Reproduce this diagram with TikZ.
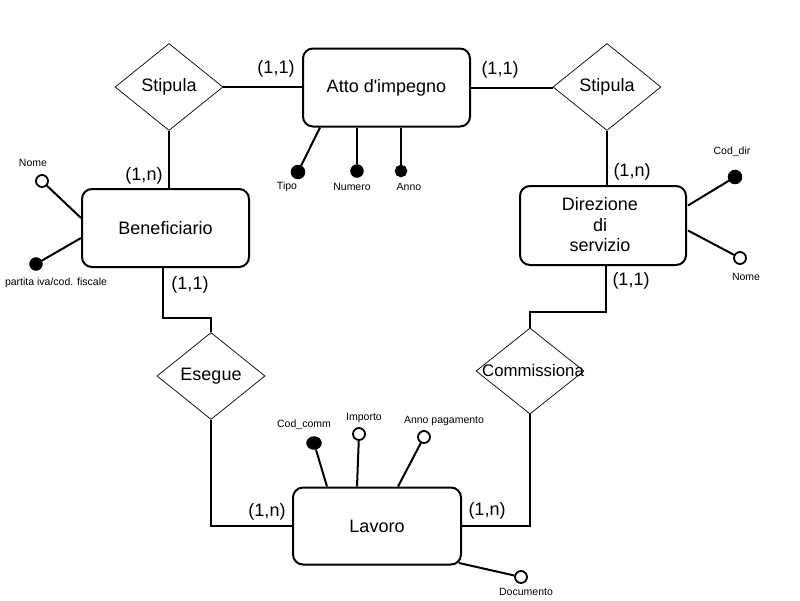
\documentclass[tikz,border=0pt]{standalone}
\usepackage{fontspec}
\setmainfont{Liberation Sans}
\usetikzlibrary{shapes.geometric,calc}
\begin{document}
\begin{tikzpicture}[x=1pt,y=-1pt,
  entity/.style={draw, line width=2pt, rounded corners=10pt, minimum height=78pt, inner sep=0pt, align=center, font=\fontsize{18}{20.5}\selectfont},
  rel/.style={draw, diamond, line width=0.7pt, minimum width=108pt, minimum height=87pt, inner sep=0pt},
  reltext/.style={font=\fontsize{18}{20}\selectfont, inner sep=0pt},
  card/.style={font=\fontsize{18}{20}\selectfont, inner sep=0pt},
  attr/.style={font=\fontsize{10.5}{12}\selectfont, inner sep=0pt},
  keyc/.style={draw, circle, line width=1.5pt, fill=black, minimum size=12pt, inner sep=0pt},
  optc/.style={draw, circle, line width=1.8pt, fill=white, minimum size=12pt, inner sep=0pt},
  conn/.style={line width=2pt},
  link/.style={line width=2pt}
]
\useasboundingbox (0,0) rectangle (800,600);

% entities
\node[entity, minimum width=167pt] (atto) at (386.5,87.5) {Atto d\textquotesingle impegno};
\node[entity, minimum width=167pt] (benef) at (165.5,228) {Beneficiario};
\node[entity, minimum width=166pt, minimum height=79pt] (dir) at (603,225.5) {};
\node[font=\fontsize{18}{20.5}\selectfont, align=center, inner sep=0pt] (dirt) at (600,225) {Direzione\\di\\servizio};
\node[entity, minimum width=168pt, minimum height=77pt] (lav) at (377,526) {Lavoro};

% relationships
\node[rel] (stipL) at (169,87) {};
\node[reltext] (stipLt) at (169,87) {Stipula};
\node[rel] (stipR) at (607,87) {};
\node[reltext] (stipRt) at (607,87) {Stipula};
\node[rel] (eseg) at (211,376) {};
\node[reltext] (esegt) at (211,376) {Esegue};
\node[rel, minimum height=86pt] (comm) at (530,371) {};
\node[reltext, font=\fontsize{16.8}{20}\selectfont] (commt) at (533,370) {Commissiona};

% connectors
\draw[conn] (stipL.east) -- (stipL.east -| atto.west);
\draw[conn] (atto.east) -- (atto.east -| stipR.west);
\draw[conn] (stipL.south) -- (stipL.south |- benef.north);
\draw[conn] (stipR.south) -- (stipR.south |- dir.north);
\coordinate (bs) at ($(benef.south)+(-2.5,0)$);
\draw[conn] (bs) -- ++(0,50) -| (eseg.north);
\draw[conn] (eseg.south) |- (lav.west);
\coordinate (ds) at ($(dir.south)+(3,0)$);
\draw[conn] (ds) -- ++(0,46) -| (comm.north);
\draw[conn] (comm.south) |- (lav.east);

% cardinalities
\node[card] (c1) at (276,69) {(1,1)};
\node[card] (c2) at (500,70) {(1,1)};
\node[card] (c3) at (144,176) {(1,n)};
\node[card] (c4) at (190,285) {(1,1)};
\node[card] (c5) at (632,172) {(1,n)};
\node[card] (c6) at (631,281) {(1,1)};
\node[card] (c7) at (267,512) {(1,n)};
\node[card] (c8) at (487,511) {(1,n)};

% attributes of Atto d'impegno
\node[keyc, minimum size=13pt] (tipo) at (298,172) {};
\node[keyc] (num) at (357,171) {};
\node[keyc, minimum size=11pt] (anno) at (401,171) {};
\draw[link] ($(atto.south west)+(18,0)$) -- (tipo);
\draw[link] (num |- atto.south) -- (num);
\draw[link] (anno |- atto.south) -- (anno);
\node[attr] (tipol) at (287,187) {Tipo};
\node[attr] (numl) at (352,187) {Numero};
\node[attr] (annol) at (409,187) {Anno};

% attributes of Beneficiario
\node[optc] (bnome) at (42,181) {};
\node[keyc] (bpiva) at (36,264) {};
\draw[link] ($(benef.west)+(0,-10)$) -- (bnome);
\draw[link] ($(benef.west)+(0,10)$) -- (bpiva);
\node[attr] (bnomel) at (33,163) {Nome};
\node[attr] (bpival) at (56,283) {partita iva/cod. fiscale};

% attributes of Direzione di servizio
\node[keyc, minimum size=13pt] (dcod) at (735,177) {};
\node[optc] (dnome) at (740,258) {};
\draw[link] ($(dir.east)+(1,-20)$) -- (dcod);
\draw[link] ($(dir.east)+(1,5)$) -- (dnome);
\node[attr] (dcodl) at (732,152) {Cod\_dir};
\node[attr] (dnomel) at (746,277) {Nome};

% attributes of Lavoro
\node[keyc, ellipse, minimum width=14pt, minimum height=12pt] (lcod) at (314,443) {};
\node[optc] (limp) at (359,434) {};
\node[optc] (lanno) at (424,437) {};
\node[optc] (ldoc) at (521,577) {};
\draw[link] ($(lav.north)+(-50,0)$) -- (lcod);
\draw[link] ($(lav.north)+(-20,0)$) -- (limp);
\draw[link] ($(lav.north)+(21,0)$) -- (lanno);
\draw[link] ($(lav.south east)+(-3,-2.5)$) -- (ldoc);
\node[attr] (lcodl) at (304,425) {Cod\_comm};
\node[attr] (limpl) at (364,418) {Importo};
\node[attr] (lannol) at (444,421) {Anno pagamento};
\node[attr] (ldocl) at (526,592) {Documento};
\end{tikzpicture}
\end{document}
